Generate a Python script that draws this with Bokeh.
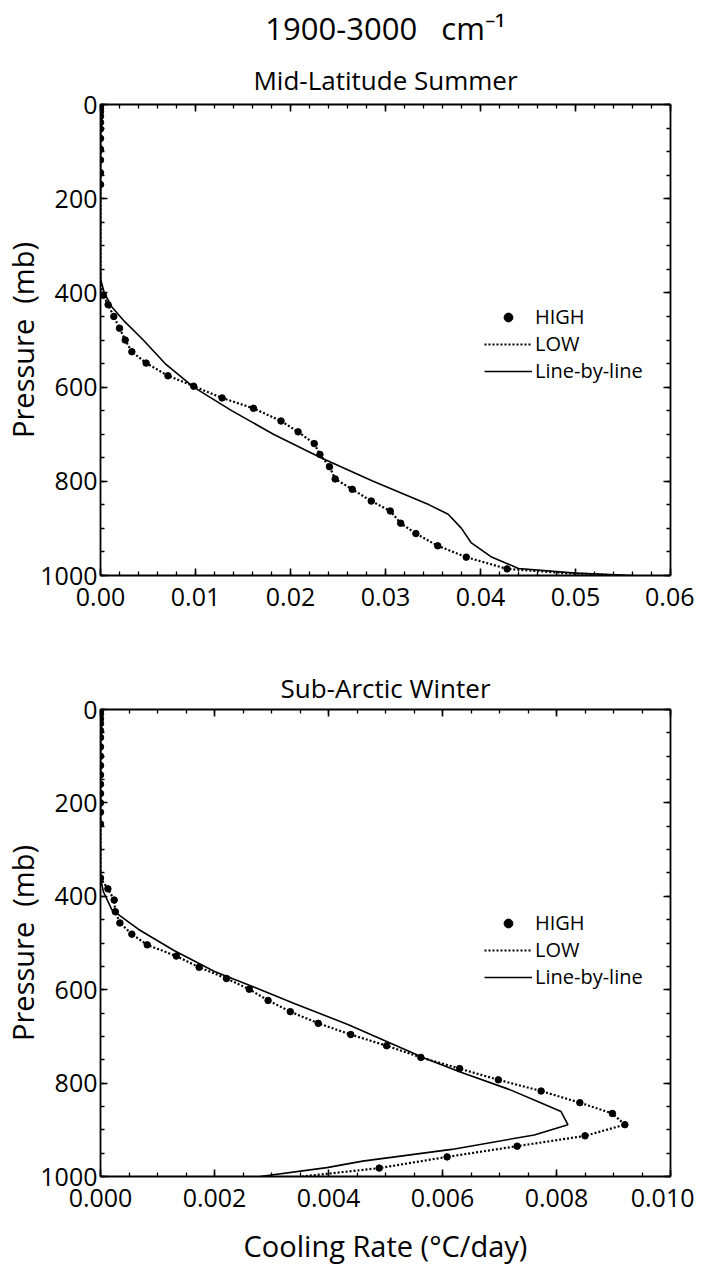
from bokeh.plotting import figure
from bokeh.models import (Range1d, LinearAxis, SingleIntervalTicker, NumeralTickFormatter,
                          Title, Legend, LegendItem, CustomJSTickFormatter)
from bokeh.layouts import column
from bokeh.embed import file_html
from bokeh.resources import INLINE

FONT = "Open Sans"

main_title = "1900-3000\u00a0\u00a0 cm\u207b\u00b9"
titles = ["Mid-Latitude Summer", "Sub-Arctic Winter"]
x_label = "Cooling Rate (\u00b0C/day)"
y_label = "Pressure\u00a0 (mb)"
legend_labels = ["HIGH", "LOW", "Line-by-line"]

# ---- Mid-Latitude Summer ----
mls_lbl_p = [0, 200, 370, 400, 430, 460, 500, 550, 600, 650, 700, 750, 800, 850, 870, 900, 930, 960, 985, 995, 1000]
mls_lbl_v = [0, 0, 0, 0.0004, 0.0012, 0.0025, 0.0045, 0.0068, 0.0098, 0.0138, 0.0182, 0.0232, 0.0287, 0.0346,
             0.0366, 0.0380, 0.0390, 0.0411, 0.0440, 0.0500, 0.0560]
mls_high_p = [3, 8, 15, 25, 38, 52, 72, 95, 118, 145, 170, 405, 425, 450, 475, 500, 525, 549, 576, 598, 623, 645,
              672, 695, 720, 743, 769, 795, 817, 842, 863, 889, 911, 937, 961, 986]
mls_high_v = [0, 0, 0, 0, 0, 0, 0, 0, 0, 0, 0, 0.0003, 0.0008, 0.0014, 0.0020, 0.0026, 0.0033, 0.0048, 0.0071,
              0.0098, 0.0128, 0.0161, 0.0190, 0.0208, 0.0225, 0.0231, 0.0241, 0.0247, 0.0265, 0.0285, 0.0305,
              0.0316, 0.0332, 0.0355, 0.0385, 0.0428]
mls_low_p = [0, 380, 405, 425, 450, 475, 500, 525, 549, 576, 598, 623, 645, 672, 695, 720, 743, 769, 795, 817, 842,
             863, 889, 911, 937, 961, 986, 995, 1000]
mls_low_v = [0, 0, 0.0003, 0.0008, 0.0014, 0.0020, 0.0026, 0.0033, 0.0048, 0.0071, 0.0098, 0.0128, 0.0161, 0.0190,
             0.0208, 0.0225, 0.0231, 0.0241, 0.0247, 0.0265, 0.0285, 0.0305, 0.0316, 0.0332, 0.0355, 0.0385,
             0.0428, 0.0490, 0.0550]

# ---- Sub-Arctic Winter ----
saw_lbl_p = [0, 360, 390, 429, 471, 516, 561, 595, 630, 675, 713, 747, 776, 814, 840, 861, 889, 911, 942, 967, 981, 1000]
saw_lbl_v = [0, 0, 0.00005, 0.0002, 0.00067, 0.00129, 0.0020, 0.0027, 0.00341, 0.00435, 0.00506, 0.00569, 0.00631,
             0.00718, 0.00768, 0.00808, 0.0082, 0.00761, 0.00616, 0.0046, 0.00397, 0.0028]
saw_high_p = [3, 10, 20, 30, 45, 60, 80, 100, 120, 140, 160, 180, 200, 220, 245, 361, 384, 408, 433, 457, 481, 504,
              528, 552, 576, 599, 623, 647, 672, 696, 720, 745, 769, 793, 817, 842, 865, 889, 913, 935, 958, 982]
saw_high_v = [0, 0, 0, 0, 0, 0, 0, 0, 0, 0, 0, 0, 0, 0, 0, 0, 0.00013, 0.00024, 0.00026, 0.00034, 0.00055, 0.00082,
              0.00133, 0.00173, 0.00221, 0.00261, 0.00294, 0.00333, 0.00382, 0.00439, 0.00502, 0.00562, 0.0063,
              0.00698, 0.00773, 0.00841, 0.00898, 0.0092, 0.0085, 0.00731, 0.00608, 0.00489]
saw_low_p = [0, 361, 384, 408, 433, 457, 481, 504, 528, 552, 576, 599, 623, 647, 672, 696, 720, 745, 769, 793, 817,
             842, 865, 889, 913, 935, 958, 982, 1000]
saw_low_v = [0, 0, 0.00013, 0.00024, 0.00026, 0.00034, 0.00055, 0.00082, 0.00133, 0.00173, 0.00221, 0.00261,
             0.00294, 0.00333, 0.00382, 0.00439, 0.00502, 0.00562, 0.0063, 0.00698, 0.00773, 0.00841, 0.00898,
             0.0092, 0.0085, 0.00731, 0.00608, 0.00489, 0.00354]

x_max = [0.06, 0.010]
x_major = [0.01, 0.002]
x_minor = [5, 4]
x_fmt = ["0.00", "0.000"]

empty_fmt = CustomJSTickFormatter(code="return ''")


def style_axis(ax, labels=True):
    ax.axis_line_width = 1.8
    ax.axis_line_color = "black"
    ax.major_tick_in = 7
    ax.major_tick_out = 0
    ax.minor_tick_in = 4
    ax.minor_tick_out = 0
    ax.major_tick_line_width = 1.6
    ax.minor_tick_line_width = 1.3
    ax.major_tick_line_color = "black"
    ax.minor_tick_line_color = "black"
    ax.major_label_text_font = FONT
    ax.major_label_text_font_size = "25px"
    ax.major_label_text_color = "black"
    ax.axis_label_text_font = FONT
    ax.axis_label_text_font_size = "29px"
    ax.axis_label_text_font_style = "normal"
    ax.axis_label_text_color = "black"
    if not labels:
        ax.formatter = empty_fmt
        ax.major_label_standoff = 0


def make_panel(idx, width, height, bl, br, bt, bb, lbl_v, lbl_p, high_v, high_p, low_v, low_p,
               show_xlabel, sub_standoff, extra_title=None, legend_x=384, legend_y=(0, 0, 0)):
    p = figure(width=width, height=height, output_backend="svg", toolbar_location=None,
               x_range=Range1d(0, x_max[idx]), y_range=Range1d(1000, 0),
               min_border_left=bl, min_border_right=br, min_border_top=bt, min_border_bottom=bb,
               x_axis_type=None, y_axis_type=None, title=None)
    p.outline_line_color = None
    p.grid.visible = False

    xt = SingleIntervalTicker(interval=x_major[idx], num_minor_ticks=x_minor[idx])
    yt = SingleIntervalTicker(interval=200, num_minor_ticks=4)

    xb = LinearAxis(ticker=xt, formatter=NumeralTickFormatter(format=x_fmt[idx]))
    style_axis(xb)
    xb.major_label_standoff = 12
    if show_xlabel:
        xb.axis_label = x_label
        xb.axis_label_standoff = 16
    p.add_layout(xb, "below")

    yl = LinearAxis(ticker=yt, axis_label=y_label)
    style_axis(yl)
    yl.major_label_standoff = 3
    yl.axis_label_standoff = -5
    p.add_layout(yl, "left")

    xr = LinearAxis(ticker=yt)
    style_axis(xr, labels=False)
    p.add_layout(xr, "right")

    xa = LinearAxis(ticker=xt)
    style_axis(xa, labels=False)
    p.add_layout(xa, "above")

    p.add_layout(Title(text=titles[idx], align="center", text_font=FONT, text_font_size="26px",
                       text_font_style="normal", text_color="black", standoff=sub_standoff), "above")
    if extra_title:
        p.add_layout(Title(text=extra_title, align="center", text_font=FONT, text_font_size="31px",
                           text_font_style="normal", text_color="black", standoff=9), "above")

    r_lbl = p.line(lbl_v, lbl_p, line_color="black", line_width=1.6)
    r_low = p.line(low_v, low_p, line_color="black", line_width=2.2, line_dash="2 2")
    r_high = p.scatter(high_v, high_p, size=6.5, color="black")

    for lab, rend, ly in zip(legend_labels, [r_high, r_low, r_lbl], legend_y):
        leg = Legend(items=[LegendItem(label=lab, renderers=[rend])],
                     location=(legend_x, ly), orientation="vertical",
                     background_fill_alpha=0, border_line_alpha=0,
                     padding=0, margin=0, spacing=0, glyph_width=48, glyph_height=22,
                     label_height=22, label_standoff=3,
                     label_text_font=FONT, label_text_font_size="20px", label_text_color="black")
        p.add_layout(leg, "center")
    return p


p1 = make_panel(0, 694, 632, 95, 21, 97, 57, mls_lbl_v, mls_lbl_p, mls_high_v, mls_high_p,
                mls_low_v, mls_low_p, False, 13, extra_title=main_title, legend_x=384,
                legend_y=(245, 218, 191))
p2 = make_panel(1, 694, 635, 90, 24, 77, 83, saw_lbl_v, saw_lbl_p, saw_high_v, saw_high_p,
                saw_low_v, saw_low_p, True, 7, legend_x=384, legend_y=(240, 213, 186))

layout = column(p1, p2, spacing=0)
open("out.html", "w").write(file_html(layout, INLINE))
